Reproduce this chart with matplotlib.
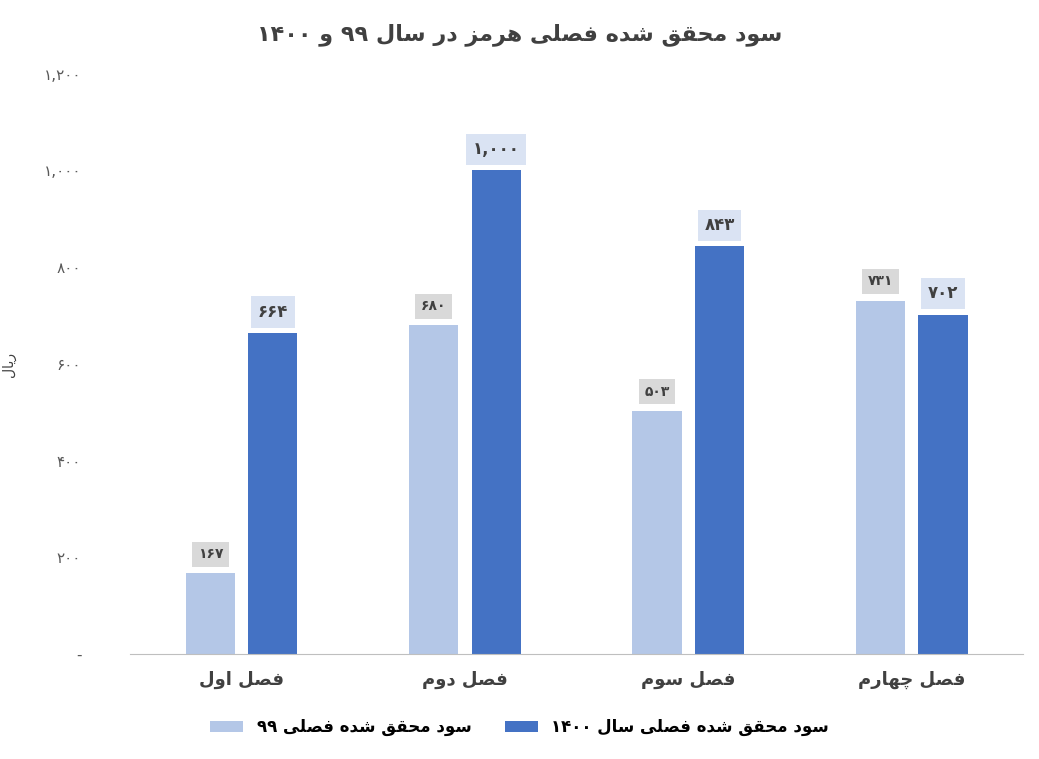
import matplotlib
matplotlib.use("Agg")
import matplotlib.pyplot as plt
import numpy as np

categories = ["فصل اول", "فصل دوم", "فصل سوم", "فصل چهارم"]
s99 = [167, 680, 503, 731]
s1400 = [664, 1000, 843, 702]
series_names = ["سود محقق شده فصلی ۹۹", "سود محقق شده فصلی سال ۱۴۰۰"]
title = "سود محقق شده فصلی هرمز در سال ۹۹ و ۱۴۰۰"
ylabel = "ریال"

FORMS = {  # isolated, final, initial, medial
    'ا': (0xFE8D, 0xFE8E, None, None), 'د': (0xFEA9, 0xFEAA, None, None),
    'ر': (0xFEAD, 0xFEAE, None, None), 'ز': (0xFEAF, 0xFEB0, None, None),
    'و': (0xFEED, 0xFEEE, None, None),
    'س': (0xFEB1, 0xFEB2, 0xFEB3, 0xFEB4), 'ش': (0xFEB5, 0xFEB6, 0xFEB7, 0xFEB8),
    'ص': (0xFEB9, 0xFEBA, 0xFEBB, 0xFEBC), 'ح': (0xFEA1, 0xFEA2, 0xFEA3, 0xFEA4),
    'ق': (0xFED5, 0xFED6, 0xFED7, 0xFED8), 'ف': (0xFED1, 0xFED2, 0xFED3, 0xFED4),
    'ل': (0xFEDD, 0xFEDE, 0xFEDF, 0xFEE0), 'م': (0xFEE1, 0xFEE2, 0xFEE3, 0xFEE4),
    'ن': (0xFEE5, 0xFEE6, 0xFEE7, 0xFEE8), 'ه': (0xFEE9, 0xFEEA, 0xFEEB, 0xFEEC),
    'ی': (0xFBFC, 0xFBFD, 0xFBFE, 0xFBFF), 'چ': (0xFB7A, 0xFB7B, 0xFB7C, 0xFB7D),
}

def shape_word(w):
    out = []
    for i, c in enumerate(w):
        if c not in FORMS:
            out.append(c); continue
        prev = w[i-1] if i > 0 else None
        nxt = w[i+1] if i + 1 < len(w) else None
        jp = prev in FORMS and FORMS[prev][2] is not None
        jn = nxt in FORMS and FORMS[c][2] is not None
        f = FORMS[c]
        if jp and jn: cp = f[3]
        elif jp: cp = f[1]
        elif jn: cp = f[2]
        else: cp = f[0]
        out.append(chr(cp))
    return "".join(out)

def rtl(s):
    toks = s.split(" ")
    res = []
    for t in reversed(toks):
        if any(c in FORMS for c in t):
            res.append(shape_word(t)[::-1])
        else:
            res.append(t)
    return " ".join(res)

PD = str.maketrans("0123456789", "۰۱۲۳۴۵۶۷۸۹")
def fa(n):
    return f"{n:,}".translate(PD)

plt.rcParams['font.family'] = ['DejaVu Sans']
fig = plt.figure(figsize=(10.39, 7.59), dpi=100)
ax = fig.add_axes([0.125, 0.138, 0.86, 0.765])
x = np.arange(len(categories))
w = 0.22
c1, c2 = "#b4c7e7", "#4472c4"
ax.bar(x - 0.14, s99, w, color=c1, label=rtl(series_names[0]))
ax.bar(x + 0.14, s1400, w, color=c2, label=rtl(series_names[1]))
for xi, v in zip(x, s99):
    ax.text(xi - 0.14, v + 25, fa(v), ha='center', va='bottom', fontsize=10, fontweight='bold',
            color='#404040', bbox=dict(boxstyle='square,pad=0.4', fc='#d9d9d9', ec='none'))
for xi, v in zip(x, s1400):
    ax.text(xi + 0.14, v + 25, fa(v), ha='center', va='bottom', fontsize=12, fontweight='bold',
            color='#404040', bbox=dict(boxstyle='square,pad=0.4', fc='#dae3f3', ec='none'))
ax.set_ylim(0, 1200)
ax.set_xlim(-0.5, 3.5)
ticks = [0, 200, 400, 600, 800, 1000, 1200]
ax.set_yticks(ticks)
ax.set_yticklabels(["-"] + [fa(t) for t in ticks[1:]], fontsize=11, color='#595959')
ax.set_xticks(x)
ax.set_xticklabels([rtl(c) for c in categories], fontsize=13, fontweight='bold', color='#404040')
ax.tick_params(axis='x', length=0, pad=12)
ax.tick_params(axis='y', length=0, pad=35)
for s in ['top', 'right', 'left']:
    ax.spines[s].set_visible(False)
ax.spines['bottom'].set_color('#bfbfbf')
ax.set_ylabel(rtl(ylabel), fontsize=10, color='#404040', labelpad=20)
fig.suptitle(rtl(title), fontsize=16, fontweight='bold', color='#404040', y=0.97)
h, l = ax.get_legend_handles_labels()
fig.legend(h, l, loc='lower center', ncol=2, frameon=False,
           bbox_to_anchor=(0.5, 0.01), prop={'weight': 'bold', 'size': 12})
fig.savefig("out.png", dpi=100)
